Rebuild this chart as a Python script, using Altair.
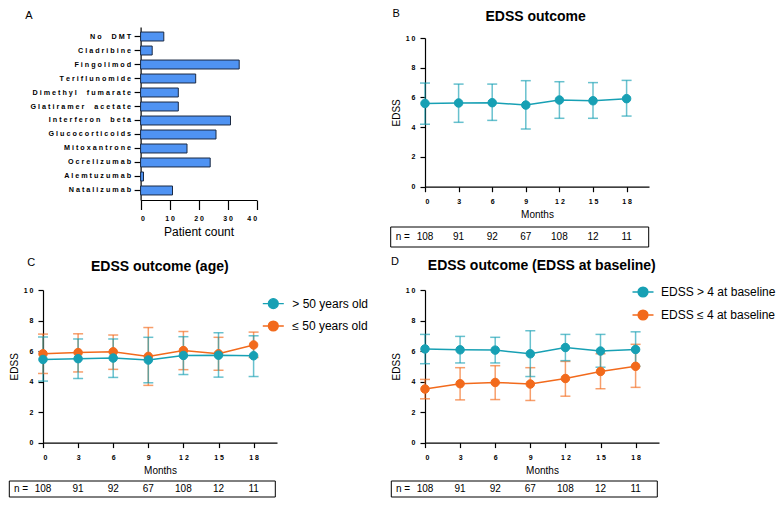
import altair as alt
import pandas as pd

# ---------------- data ----------------
drugs = ["No DMT", "Cladribine", "Fingolimod", "Teriflunomide", "Dimethyl fumarate",
         "Glatiramer acetate", "Interferon beta", "Glucocorticoids", "Mitoxantrone",
         "Ocrelizumab", "Alemtuzumab", "Natalizumab"]
patient_counts = [8, 4, 34, 19, 13, 13, 31, 26, 16, 24, 1, 11]

months = [0, 3, 6, 9, 12, 15, 18]
n_patients = [108, 91, 92, 67, 108, 12, 11]

# Panel B: all patients
b_mean = [5.60, 5.63, 5.65, 5.49, 5.83, 5.78, 5.92]
b_hi = [6.97, 6.90, 6.90, 7.13, 7.06, 7.00, 7.15]
b_lo = [4.20, 4.33, 4.46, 3.88, 4.60, 4.60, 4.75]

# Panel C: by age
c_labels = ["> 50 years old", "≤ 50 years old"]
c_old_mean = [5.45, 5.50, 5.54, 5.41, 5.71, 5.73, 5.69]
c_old_hi = [6.92, 6.79, 6.79, 6.90, 6.94, 7.20, 7.00]
c_old_lo = [4.03, 4.20, 4.27, 3.92, 4.46, 4.29, 4.33]
c_young_mean = [5.82, 5.90, 5.95, 5.65, 6.03, 5.82, 6.40]
c_young_hi = [7.11, 7.13, 7.05, 7.54, 7.28, 6.90, 7.24]
c_young_lo = [4.53, 4.63, 4.80, 3.75, 4.78, 4.74, 5.58]

# Panel D: by EDSS at baseline
d_labels = ["EDSS > 4 at baseline", "EDSS ≤ 4 at baseline"]
d_high_mean = [6.14, 6.08, 6.06, 5.82, 6.23, 6.00, 6.10]
d_high_hi = [7.09, 6.96, 6.90, 7.33, 7.09, 7.09, 7.26]
d_high_lo = [5.17, 5.22, 5.22, 4.33, 5.37, 4.94, 5.00]
d_low_mean = [3.51, 3.86, 3.94, 3.84, 4.20, 4.66, 5.00]
d_low_hi = [4.14, 4.91, 5.04, 4.91, 5.32, 5.82, 6.44]
d_low_lo = [2.87, 2.80, 2.82, 2.76, 3.04, 3.53, 3.62]

# ---------------- style / layout ----------------
FONT = "Liberation Sans"
TEAL = "#17a0b4"
ORANGE = "#f26a1c"
BAR_FILL = "#4f93f3"
BAR_STROKE = "#1b2a44"
NB = "\u00a0"
SPACED = "join(split(replace(datum.label, ' ', '" + NB + NB + "'), ''), ' ')"
LEG_PATH = ("M-1.5,0L1.5,0M-0.71,0A0.71,0.71,0,1,1,0.71,0"
            "A0.71,0.71,0,1,1,-0.71,0Z")

W = 234
H_TOP = 173
H_BOT = 152.6
COLGAP = 148
ROWGAP = 90

one = pd.DataFrame({"k": [0]})


def axis_common(**kw):
    base = dict(domainColor="black", tickColor="black", domainWidth=1.2, tickWidth=1.2,
                labelColor="black", titleColor="black", grid=False,
                labelFont=FONT, titleFont=FONT, labelFontSize=7, labelFontWeight="bold",
                labelExpr=SPACED, titleFontWeight="normal")
    base.update(kw)
    return alt.Axis(**base)


def text_layer(txt, x, y, size=11, weight="normal", align="left"):
    return alt.Chart(one).mark_text(text=txt, font=FONT, fontSize=size, fontWeight=weight,
                                    align=align, baseline="alphabetic", color="black").encode(
        x=alt.value(x), y=alt.value(y))


# ---------------- Panel A ----------------
a_df = pd.DataFrame({"drug": drugs, "count": patient_counts})
A_X0, A_X1 = 97.6, 213.6
bars = alt.Chart(a_df).mark_bar(fill=BAR_FILL, stroke=BAR_STROKE, strokeWidth=1).encode(
    x=alt.X("count:Q", scale=alt.Scale(domain=[0, 40], range=[A_X0, A_X1]),
            axis=axis_common(values=[0, 10, 20, 30, 40], title="Patient count", tickSize=9.5,
                             labelPadding=5, titleFontSize=12, titlePadding=5)),
    y=alt.Y("drug:N", sort=drugs, scale=alt.Scale(paddingInner=0.36, paddingOuter=0.36),
            axis=axis_common(title=None, offset=-A_X0, tickSize=6.5, labelPadding=3.5,
                             labelFontSize=7.2)),
)
panel_a = alt.layer(bars, text_layer("A", -17.7, -8)).properties(width=W, height=H_TOP)


# ---------------- line panels ----------------
def line_panel(series, title, title_x, title_y, letter, letter_x, letter_y, height,
               x_range=None, y_range=None, x_offset=0, box=None, n_y=0, n_label_x=-29,
               legend=None):
    colors = [TEAL, ORANGE][:len(series)]
    names = [s[0] for s in series]
    cscale = alt.Scale(domain=names, range=colors)

    xs = dict(domain=[0, 20])
    if x_range is not None:
        xs["range"] = x_range
    ys = dict(domain=[0, 10])
    if y_range is not None:
        ys["range"] = y_range

    xaxis = axis_common(values=months, title="Months", tickSize=5, labelPadding=5.5,
                        titleFontSize=10, titlePadding=5, offset=x_offset)
    yaxis = axis_common(values=[0, 2, 4, 6, 8, 10], title="EDSS", tickSize=5, labelPadding=5,
                        titleFontSize=10, titlePadding=4)
    X = alt.X("month:Q", scale=alt.Scale(**xs), axis=xaxis)

    def Y(f):
        return alt.Y(f, scale=alt.Scale(**ys), axis=yaxis)

    frames = []
    err_layers, line_layers = [], []
    # later series first so the first series is drawn on top
    for (name, mean, lo, hi), col in reversed(list(zip(series, colors))):
        sdf = pd.DataFrame({"month": months, "grp": name, "mean": mean, "lo": lo, "hi": hi})
        frames.append(sdf)
        sb = alt.Chart(sdf)
        err_layers.append(sb.mark_rule(strokeWidth=1.5, opacity=0.65, color=col).encode(
            x=X, y=Y("lo:Q"), y2="hi:Q"))
        err_layers.append(sb.transform_fold(["lo", "hi"], as_=["which", "val"]).mark_tick(
            orient="horizontal", size=10, thickness=1.5, opacity=0.65, color=col).encode(
            x=X, y=Y("val:Q")))
        line_layers.append(sb.mark_line(strokeWidth=1.5, color=col).encode(
            x=X, y=Y("mean:Q")))
    df = pd.concat(frames, ignore_index=True)

    if legend is not None:
        leg = alt.Legend(orient="none", legendX=legend[0], legendY=legend[1], title=None,
                         labelFontSize=12, labelFont=FONT, labelColor="black",
                         symbolType=LEG_PATH, symbolSize=196, symbolStrokeWidth=1.3,
                         labelOffset=legend[2], rowPadding=legend[3], padding=0)
    else:
        leg = None
    points = alt.Chart(df).mark_point(filled=True, size=72, opacity=1, strokeWidth=1).encode(
        x=X, y=Y("mean:Q"),
        fill=alt.Fill("grp:N", scale=cscale, legend=leg),
        stroke=alt.Stroke("grp:N", scale=cscale, legend=leg))

    ndf = pd.DataFrame({"month": months, "n": n_patients})
    ntext = alt.Chart(ndf).mark_text(font=FONT, fontSize=10, color="black",
                                     baseline="middle", align="center").encode(
        x=X, y=alt.value(n_y), text="n:Q")
    nlabel = alt.Chart(one).mark_text(text="n =", font=FONT, fontSize=10, color="black",
                                      baseline="middle", align="left").encode(
        x=alt.value(n_label_x), y=alt.value(n_y))
    nbox = alt.Chart(one).mark_rect(fillOpacity=0, stroke="black", strokeWidth=1).encode(
        x=alt.value(box[0]), x2=alt.value(box[1]), y=alt.value(box[2]), y2=alt.value(box[3]))

    return alt.layer(*err_layers, *line_layers, points, nbox, nlabel, ntext,
                     text_layer(title, title_x, title_y, size=14, weight="bold",
                                align="center"),
                     text_layer(letter, letter_x, letter_y)).properties(
        width=W, height=height)


B_TOP, B_BOT = 11, 159.7
panel_b = line_panel(
    [("All", b_mean, b_lo, b_hi)], "EDSS outcome", 110.6, -6.3, "B", -32.6, -9.7, H_TOP,
    x_range=[0, 224], y_range=[B_BOT, B_TOP], x_offset=-(H_TOP - B_BOT),
    box=[-34.3, 223.7, B_BOT + 40.3, B_BOT + 60.3], n_y=B_BOT + 50.3, n_label_x=-29.3)

panel_c = line_panel(
    [(c_labels[0], c_old_mean, c_old_lo, c_old_hi),
     (c_labels[1], c_young_mean, c_young_lo, c_young_hi)],
    "EDSS outcome (age)", 116.8, -19.2, "C", -15.7, -24.4, H_BOT,
    box=[-33.7, 232.3, H_BOT + 38.4, H_BOT + 54.4], n_y=H_BOT + 46, n_label_x=-29,
    legend=(222.3, 5.6, 11, 6.4))

panel_d = line_panel(
    [(d_labels[0], d_high_mean, d_high_lo, d_high_hi),
     (d_labels[1], d_low_mean, d_low_lo, d_low_hi)],
    "EDSS outcome (EDSS at baseline)", 116.8, -19.7, "D", -34, -25.5, H_BOT,
    box=[-33.7, 232.3, H_BOT + 38.4, H_BOT + 54.4], n_y=H_BOT + 46, n_label_x=-29,
    legend=(210, -6, 10, 7))

chart = alt.concat(panel_a, panel_b, panel_c, panel_d, columns=2,
                   spacing={"row": ROWGAP, "column": COLGAP}, bounds="flush",
                   padding=0).resolve_scale(
    color="independent", fill="independent", stroke="independent").configure(
    font=FONT).configure_view(stroke=None)

chart.save("out.html", embed_options={"renderer": "svg", "actions": False})
